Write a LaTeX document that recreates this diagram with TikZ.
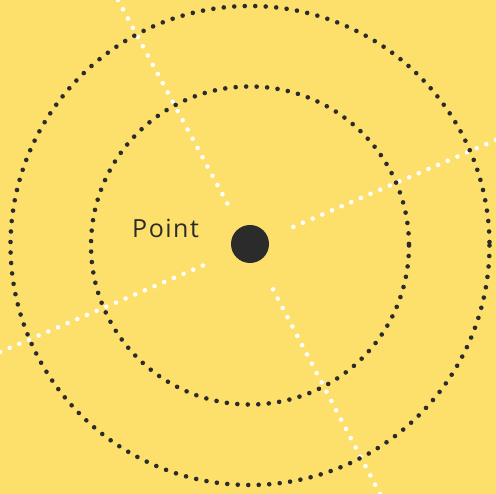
\documentclass[tikz,border=0pt]{standalone}
\usepackage{fontspec}
\newfontfamily\labelfont[LetterSpace=6]{Open Sans}
\usetikzlibrary{calc}
\definecolor{bgyellow}{HTML}{FDDF6B}
\definecolor{ink}{HTML}{2B2B2B}

\begin{document}
\begin{tikzpicture}[
  x=1pt, y=-1pt,
  ring/.style={draw=ink, line width=4.6pt, line cap=round, dash pattern=on 0pt off 10.5pt},
  axis/.style={draw=white, line width=4.6pt, line cap=round, dash pattern=on 0pt off 10.5pt},
  dot/.style={circle, fill=ink, minimum size=38pt, inner sep=0pt},
  label/.style={font=\labelfont\fontsize{25}{30}\selectfont, text=ink, inner sep=0pt, anchor=base west}
]
  \fill[bgyellow] (0,0) rectangle (496,494);
  \useasboundingbox (0,0) rectangle (496,494);

  \coordinate (C) at (250,245.5);
  % ends of the two white axes
  \coordinate (N) at (118,0);
  \coordinate (S) at (380,494);
  \coordinate (E) at (496,140);
  \coordinate (W) at (0,352);

  \draw[axis] (N) -- ($(C)!45pt!(N)$);
  \draw[axis] (S) -- ($(C)!45pt!(S)$);
  \draw[axis] (E) -- ($(C)!45pt!(E)$);
  \draw[axis] (W) -- ($(C)!45pt!(W)$);

  \draw[ring] (C) circle[radius=159];
  \draw[ring] (C) circle[radius=239.5];

  \node[dot] (point) at (250,244) {};
  \node[label] (name) at (132,238) {Point};
\end{tikzpicture}
\end{document}
